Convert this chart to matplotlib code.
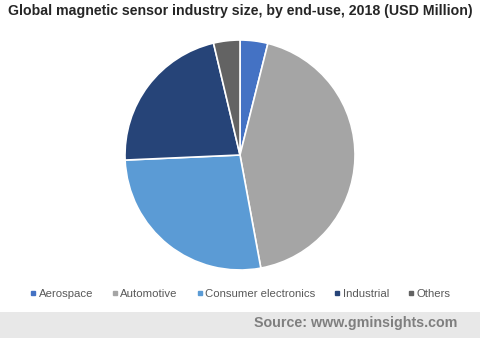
import matplotlib.pyplot as plt
from matplotlib.lines import Line2D
from matplotlib.patches import Rectangle

plt.rcParams['font.family'] = ['Liberation Sans', 'DejaVu Sans']

labels = ['Aerospace', 'Automotive', 'Consumer electronics', 'Industrial', 'Others']
values = [3.9, 43.2, 27.2, 22.0, 3.7]
colors = ['#4472C4', '#A5A5A5', '#5B9BD5', '#264478', '#636363']

fig = plt.figure(figsize=(4.8, 3.38), dpi=100)

# grey source band at the bottom
fig.patches.append(Rectangle((0, 0), 1, 26 / 338, transform=fig.transFigure,
                             facecolor='#e8e8e8', edgecolor='none', zorder=0))

ax = fig.add_axes([0.5 - 115 / 480, (338 - 155 - 115) / 338, 230 / 480, 230 / 338])
ax.pie(values, colors=colors, startangle=90, counterclock=False,
       wedgeprops=dict(edgecolor='white', linewidth=1.2))
ax.set_xlim(-1, 1)
ax.set_ylim(-1, 1)
ax.set_aspect('equal')

fig.text(0.5, 1 - 11 / 338, 'Global magnetic sensor industry size, by end-use, 2018 (USD Million)',
         ha='center', va='center', fontsize=10.2, fontweight='bold', color='#262626')

handles = [Line2D([], [], marker='s', linestyle='none', markersize=3.2,
                  markerfacecolor=c, markeredgecolor=c) for c in colors]
fig.legend(handles, labels, loc='center', bbox_to_anchor=(0.5, 1 - 294 / 338), ncol=5,
           frameon=False, fontsize=8.2, handletextpad=0.2, columnspacing=1.6,
           handlelength=0.6, labelcolor='#595959')

fig.text(457 / 480, 1 - 323 / 338, 'Source: www.gminsights.com', ha='right', va='center',
         fontsize=10.3, fontweight='bold', color='#7f7f7f')

fig.savefig('out.png', dpi=100)
